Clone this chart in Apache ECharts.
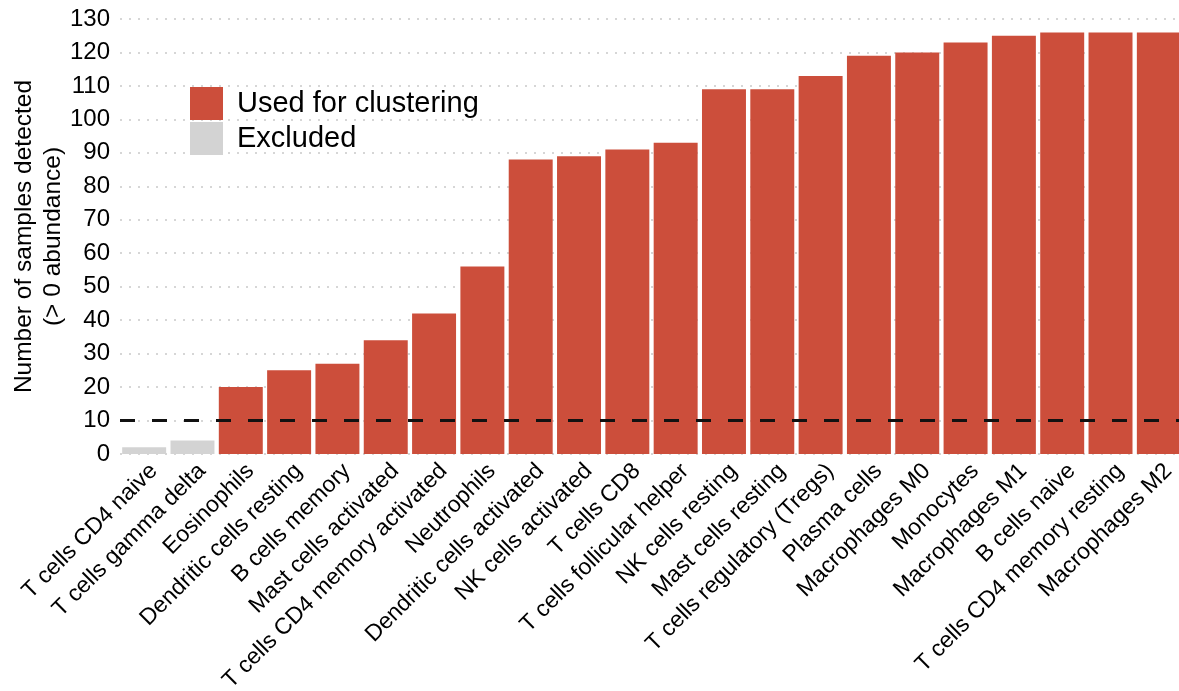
<!DOCTYPE html>
<html>
<head>
<meta charset="utf-8">
<script src="https://cdn.jsdelivr.net/npm/echarts@6/dist/echarts.min.js"></script>
<style>
  html, body { margin: 0; padding: 0; background: #fff; }
  #chart { width: 1179px; height: 691px; }
</style>
</head>
<body>
<div id="chart"></div>
<script>
// Immune cell types, ordered by detection count
const cellTypes = [
  'T cells CD4 naive', 'T cells gamma delta', 'Eosinophils', 'Dendritic cells resting',
  'B cells memory', 'Mast cells activated', 'T cells CD4 memory activated', 'Neutrophils',
  'Dendritic cells activated', 'NK cells activated', 'T cells CD8', 'T cells follicular helper',
  'NK cells resting', 'Mast cells resting', 'T cells regulatory (Tregs)', 'Plasma cells',
  'Macrophages M0', 'Monocytes', 'Macrophages M1', 'B cells naive',
  'T cells CD4 memory resting', 'Macrophages M2'
];

// Number of samples with > 0 abundance for each cell type
const samplesDetected = [
  2, 4, 20, 25, 27, 34, 42, 56, 88, 89, 91, 93,
  109, 109, 113, 119, 120, 123, 125, 126, 126, 126
];

// Minimum sample count for a cell type to be used for clustering
const cutoff = 10;

const yTicks = { min: 0, max: 130, step: 10 };

const usedData = samplesDetected.map(v => (v >= cutoff ? v : '-'));
const excludedData = samplesDetected.map(v => (v < cutoff ? v : '-'));

const FONT = '"Liberation Sans", Arial, Helvetica, sans-serif';
const RED = '#CC4E3B';
const GREY = '#D3D3D3';

const chart = echarts.init(document.getElementById('chart'), null, { renderer: 'canvas' });

chart.setOption({
  animation: false,
  backgroundColor: '#ffffff',
  textStyle: { fontFamily: FONT },
  grid: {
    left: 120, top: 19, width: 1063, height: 435,
    containLabel: false,
    outerBoundsMode: 'none'
  },
  legend: {
    orient: 'vertical',
    left: 185,
    top: 82,
    itemWidth: 33,
    itemHeight: 33,
    itemGap: 2,
    icon: 'rect',
    selectedMode: false,
    textStyle: { fontFamily: FONT, fontSize: 29, color: '#000', padding: [0, 0, 0, 9] },
    data: ['Used for clustering', 'Excluded']
  },
  xAxis: {
    type: 'category',
    data: cellTypes,
    axisLine: { show: false },
    axisTick: { show: false },
    axisLabel: {
      rotate: 45,
      interval: 0,
      margin: 4,
      verticalAlign: 'top',
      padding: [2, 0, 0, 0],
      fontFamily: FONT,
      fontSize: 23,
      color: '#000'
    }
  },
  yAxis: {
    type: 'value',
    min: yTicks.min,
    max: yTicks.max,
    interval: yTicks.step,
    name: 'Number of samples detected\n(> 0 abundance)',
    nameLocation: 'middle',
    nameGap: 52,
    nameMoveOverlap: false,
    nameTextStyle: { fontFamily: FONT, fontSize: 24.5, color: '#000', lineHeight: 29, align: 'center' },
    axisLine: { show: false },
    axisTick: { show: false },
    axisLabel: { fontFamily: FONT, fontSize: 24, color: '#000', margin: 10 },
    splitLine: { show: true, lineStyle: { color: '#D6D6D6', width: 2, type: [2, 7] } }
  },
  series: [
    {
      name: 'Used for clustering',
      type: 'bar',
      stack: 'count',
      data: usedData,
      barCategoryGap: '9%',
      itemStyle: { color: RED }
    },
    {
      name: 'Excluded',
      type: 'bar',
      stack: 'count',
      data: excludedData,
      barCategoryGap: '9%',
      itemStyle: { color: GREY },
      markLine: {
        silent: true,
        symbol: ['none', 'none'],
        label: { show: false },
        lineStyle: { color: '#111', width: 3, type: [15, 17] },
        data: [{ yAxis: cutoff }]
      }
    }
  ]
});
</script>
</body>
</html>
